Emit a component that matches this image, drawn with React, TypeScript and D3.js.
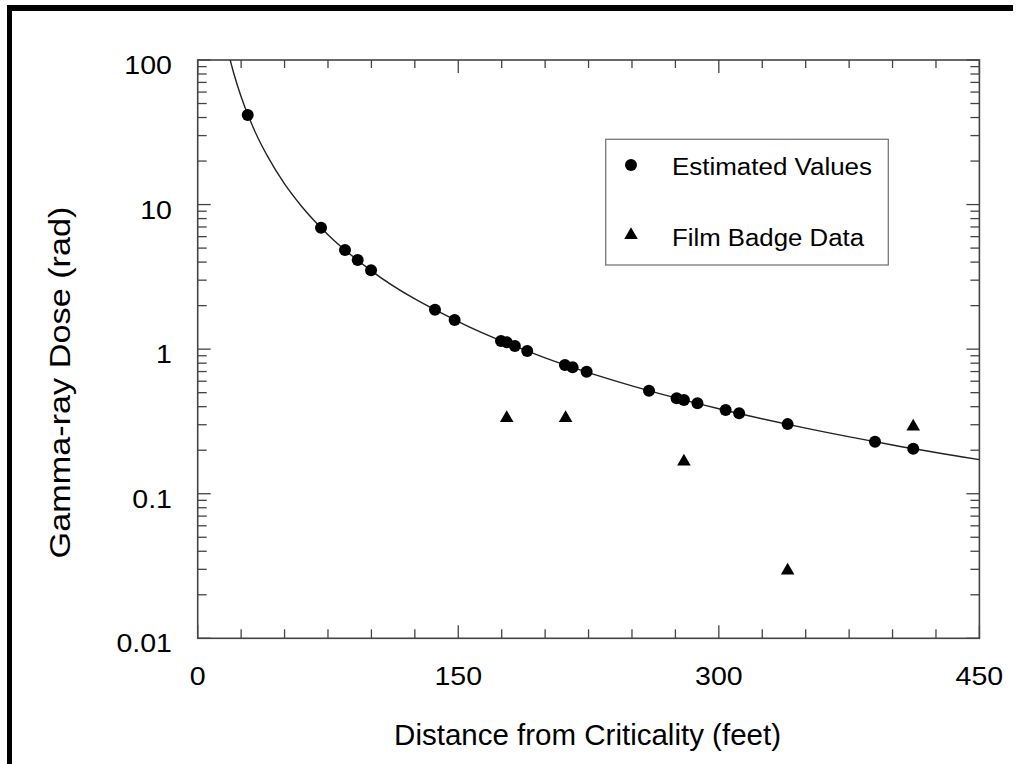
import * as d3 from 'd3'

// Estimated values (circles)
const estDist = [28.8, 71.0, 84.8, 92.1, 99.8, 136.6, 147.9, 174.6, 177.9, 182.6, 189.7, 211.4, 215.8, 223.9, 259.8, 275.7, 279.9, 287.7, 303.9, 311.7, 339.6, 389.9, 411.9]
const estDose = [41.6, 6.92, 4.85, 4.14, 3.51, 1.87, 1.59, 1.14, 1.116, 1.05, 0.972, 0.778, 0.75, 0.699, 0.516, 0.457, 0.445, 0.423, 0.38, 0.36, 0.303, 0.229, 0.205]

// Film badge data (triangles)
const badgeDist = [177.9, 211.8, 279.9, 339.6, 411.9]
const badgeDose = [0.333, 0.333, 0.167, 0.0294, 0.291]

// Fitted curve, points
const curveDist = [18.7, 21, 25, 30, 35, 40, 50, 60, 75, 100, 150, 200, 250, 300, 350, 400, 450]
const curveDose = [100, 79, 55.7, 38.7, 28.4, 21.8, 13.9, 9.67, 6.19, 3.48, 1.55, 0.87, 0.557, 0.387, 0.284, 0.2175, 0.172]

const xTickLabels = [0, 150, 300, 450]
const yTickLabels = [0.01, 0.1, 1, 10, 100]
const yTickText = ['0.01', '0.1', '1', '10', '100']

const W = 1018
const H = 764
const left = 197.7
const right = 979.4
const top = 60
const bottom = 638.3
const FONT = '"Liberation Sans", Arial, Helvetica, sans-serif'

export default function App() {
  const x = d3.scaleLinear().domain([0, 450]).range([left, right])
  const y = d3.scaleLog().domain([0.01, 100]).range([bottom, top])

  const xMinor = d3.range(0, 451, 25)
  const yMinor: number[] = []
  for (const dec of [0.01, 0.1, 1, 10]) {
    for (let k = 2; k <= 9; k++) yMinor.push(dec * k)
  }

  const line = d3
    .line<number>()
    .x((_, i) => x(curveDist[i]))
    .y((d) => y(d))
    .curve(d3.curveMonotoneX)

  const tri = d3.symbol(d3.symbolTriangle, 80)()
  const axisColor = '#444'

  return (
    <svg width={W} height={H} style={{ position: 'absolute', left: 0, top: 0, background: '#fff' }} fontFamily={FONT}>
      {/* outer frame (top and left edges visible) */}
      <rect x={7} y={5} width={1006} height={6} fill="#000" />
      <rect x={7} y={5} width={5} height={H} fill="#000" />

      {/* x ticks, bottom and top, inward */}
      {xMinor.map((v) => {
        const major = v % 150 === 0
        return (
          <g key={'x' + v} stroke={axisColor} strokeWidth={1.3}>
            <line x1={x(v)} x2={x(v)} y1={bottom} y2={bottom - (major ? 13 : 9)} />
            <line x1={x(v)} x2={x(v)} y1={top} y2={top + (major ? 13 : 8)} />
          </g>
        )
      })}

      {/* y ticks, left and right, inward */}
      {yMinor.map((v) => (
        <g key={'ym' + v} stroke={axisColor} strokeWidth={1.3}>
          <line x1={left} x2={left + 9} y1={y(v)} y2={y(v)} />
          <line x1={right} x2={right - 9} y1={y(v)} y2={y(v)} />
        </g>
      ))}
      {yTickLabels.map((v) => (
        <g key={'yM' + v} stroke={axisColor} strokeWidth={1.3}>
          <line x1={left} x2={left + 13} y1={y(v)} y2={y(v)} />
          <line x1={right} x2={right - 13} y1={y(v)} y2={y(v)} />
        </g>
      ))}

      <rect x={left} y={top} width={right - left} height={bottom - top} fill="none" stroke={axisColor} strokeWidth={1.6} />

      {/* tick labels */}
      {xTickLabels.map((v) => (
        <text key={'xl' + v} transform={`translate(${x(v)},${bottom + 47}) scale(1.12,1)`} textAnchor="middle" fontSize={25.5}>
          {v}
        </text>
      ))}
      {yTickLabels.map((v, i) => (
        <text key={'yl' + v} transform={`translate(172,${y(v) + 14}) scale(1.12,1)`} textAnchor="end" fontSize={25.5}>
          {yTickText[i]}
        </text>
      ))}

      {/* axis titles */}
      <text x={(left + right) / 2 - 1} y={745} textAnchor="middle" fontSize={29.5}>
        Distance from Criticality (feet)
      </text>
      <text
        transform={`translate(70,382.5) rotate(-90)`}
        textAnchor="middle"
        fontSize={30}
        textLength={352}
        lengthAdjust="spacingAndGlyphs"
      >
        Gamma-ray Dose (rad)
      </text>

      {/* fitted curve */}
      <clipPath id="plot">
        <rect x={left} y={top} width={right - left} height={bottom - top} />
      </clipPath>
      <path d={line(curveDose) || ''} fill="none" stroke="#222" strokeWidth={1.4} clipPath="url(#plot)" />

      {/* markers */}
      {estDist.map((d, i) => (
        <circle key={'c' + i} cx={x(d)} cy={y(estDose[i])} r={6} fill="#000" />
      ))}
      {badgeDist.map((d, i) => (
        <path key={'t' + i} d={tri || ''} transform={`translate(${x(d)},${y(badgeDose[i])})`} fill="#000" />
      ))}

      {/* legend */}
      <rect x={605.7} y={139.3} width={282.6} height={125.7} fill="#fff" stroke="#777" strokeWidth={1.3} />
      <circle cx={631} cy={165} r={6} fill="#000" />
      <text x={672} y={175} fontSize={23.5} textLength={200} lengthAdjust="spacingAndGlyphs">
        Estimated Values
      </text>
      <path d={tri || ''} transform="translate(631,235)" fill="#000" />
      <text x={672} y={245.5} fontSize={23.5} textLength={192} lengthAdjust="spacingAndGlyphs">
        Film Badge Data
      </text>
    </svg>
  )
}
